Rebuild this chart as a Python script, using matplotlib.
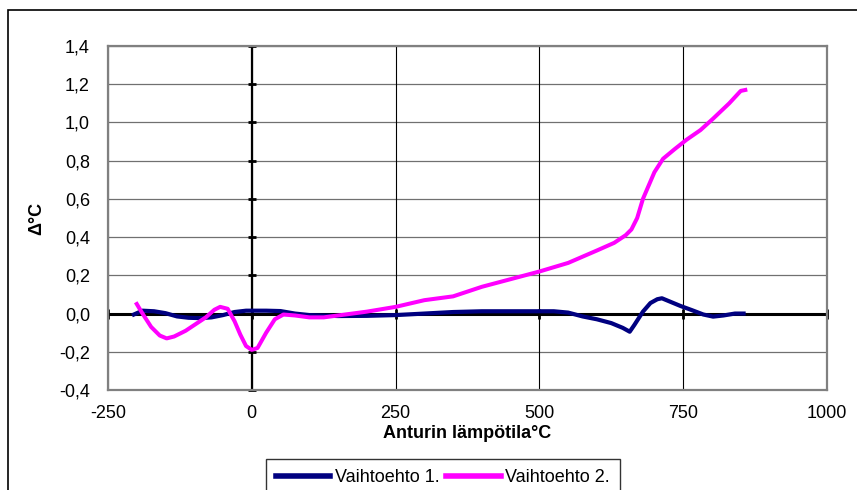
import matplotlib
matplotlib.use('Agg')
import matplotlib.pyplot as plt
from matplotlib.patches import Rectangle

plt.rcParams['font.family'] = ['Liberation Sans', 'DejaVu Sans']

# ===== data ===== #
x_v1 = [-205, -190, -170, -150, -130, -110, -90, -70, -50, -30, -10, 0, 25, 50,
        75, 100, 150, 200, 250, 300, 350, 400, 450, 500, 525, 550, 575, 600,
        625, 645, 657, 665, 680, 693, 705, 713, 725, 745, 765, 785, 802, 820,
        840, 855]
y_v1 = [-0.005, 0.015, 0.012, 0.002, -0.015, -0.022, -0.024, -0.02, -0.008,
        0.008, 0.015, 0.015, 0.015, 0.013, 0.0, -0.008, -0.013, -0.012, -0.008,
        0.0, 0.008, 0.012, 0.012, 0.012, 0.012, 0.005, -0.015, -0.03, -0.05,
        -0.075, -0.095, -0.06, 0.01, 0.055, 0.075, 0.08, 0.065, 0.04, 0.018,
        -0.005, -0.016, -0.01, 0.0, 0.0]

x_v2 = [-200, -190, -175, -160, -148, -135, -115, -95, -80, -65, -55, -42, -30,
        -20, -10, 0, 10, 25, 40, 55, 75, 100, 125, 150, 175, 200, 250, 300, 350,
        400, 450, 500, 550, 600, 630, 650, 660, 670, 680, 690, 700, 715, 735,
        756, 780, 802, 830, 850, 858]
y_v2 = [0.05, 0.0, -0.07, -0.115, -0.13, -0.12, -0.09, -0.05, -0.02, 0.02,
        0.035, 0.025, -0.04, -0.11, -0.17, -0.19, -0.18, -0.1, -0.03, -0.005,
        -0.01, -0.02, -0.02, -0.01, 0.0, 0.01, 0.035, 0.07, 0.09, 0.14, 0.18,
        0.22, 0.265, 0.33, 0.37, 0.41, 0.44, 0.5, 0.6, 0.67, 0.74, 0.81, 0.86,
        0.91, 0.96, 1.02, 1.1, 1.165, 1.17]

x_ticks = [-250, 0, 250, 500, 750, 1000]
y_ticks = [-0.4, -0.2, 0.0, 0.2, 0.4, 0.6, 0.8, 1.0, 1.2, 1.4]
labels = ['Vaihtoehto 1.', 'Vaihtoehto 2.']
colors = ['#000080', '#FF00FF']

fs = 13

fig = plt.figure(figsize=(8.57, 4.9), dpi=100)
pos = [108 / 857, 1 - 390 / 490, (827 - 108) / 857, (390 - 46) / 490]
ax = fig.add_axes(pos)

# outer chart frame (cut at right and bottom like the source)
fig.patches.append(Rectangle((8 / 857, -0.1), 1.2, 1.1 - 10 / 490,
                             transform=fig.transFigure, fill=False,
                             edgecolor='black', linewidth=1.2))

ax.set_xlim(-250, 1000)
ax.set_ylim(-0.4, 1.4)
ax.set_xticks(x_ticks)
ax.set_yticks(y_ticks)
ax.set_xticklabels([str(t) for t in x_ticks])
ax.set_yticklabels([f'{t:.1f}'.replace('.', ',') for t in y_ticks])
ax.tick_params(length=0, labelsize=fs, pad=13)
ax.tick_params(axis='x', pad=11)

for y in y_ticks:
    ax.axhline(y, color='#707070', linewidth=0.9, zorder=1)
for x in x_ticks:
    ax.axvline(x, color='black', linewidth=0.8, zorder=1)
for s in ax.spines.values():
    s.set_color('#808080')
    s.set_linewidth(1.6)

# zero axes with small ticks
ax.axhline(0, color='black', linewidth=2.2, zorder=2)
ax.axvline(0, color='black', linewidth=1.6, zorder=2)
ax.plot(x_ticks, [0] * len(x_ticks), linestyle='none', marker='|',
        markersize=7, markeredgewidth=2, color='black', zorder=2, clip_on=False)
ax.plot([0] * len(y_ticks), y_ticks, linestyle='none', marker='_',
        markersize=6, markeredgewidth=2, color='black', zorder=2, clip_on=False)

ax.plot(x_v1, y_v1, color=colors[0], linewidth=3.0, label=labels[0], zorder=3)
ax.plot(x_v2, y_v2, color=colors[1], linewidth=2.9, label=labels[1], zorder=4)

ax.set_xlabel('Anturin lämpötila°C', fontsize=fs, fontweight='bold', labelpad=2)
ax.set_ylabel('Δ°C', fontsize=fs, fontweight='bold', labelpad=10)

leg = fig.legend(loc='upper left', bbox_to_anchor=(266 / 857, 1 - 459 / 490),
                 ncol=2, fontsize=fs, frameon=True, fancybox=False,
                 handlelength=3.0, handletextpad=0.25, columnspacing=0.4,
                 borderpad=0.55, borderaxespad=0)
leg.get_frame().set_edgecolor('black')
leg.get_frame().set_linewidth(1.0)
for line in leg.get_lines():
    line.set_linewidth(4)

fig.savefig('out.png', dpi=100)
